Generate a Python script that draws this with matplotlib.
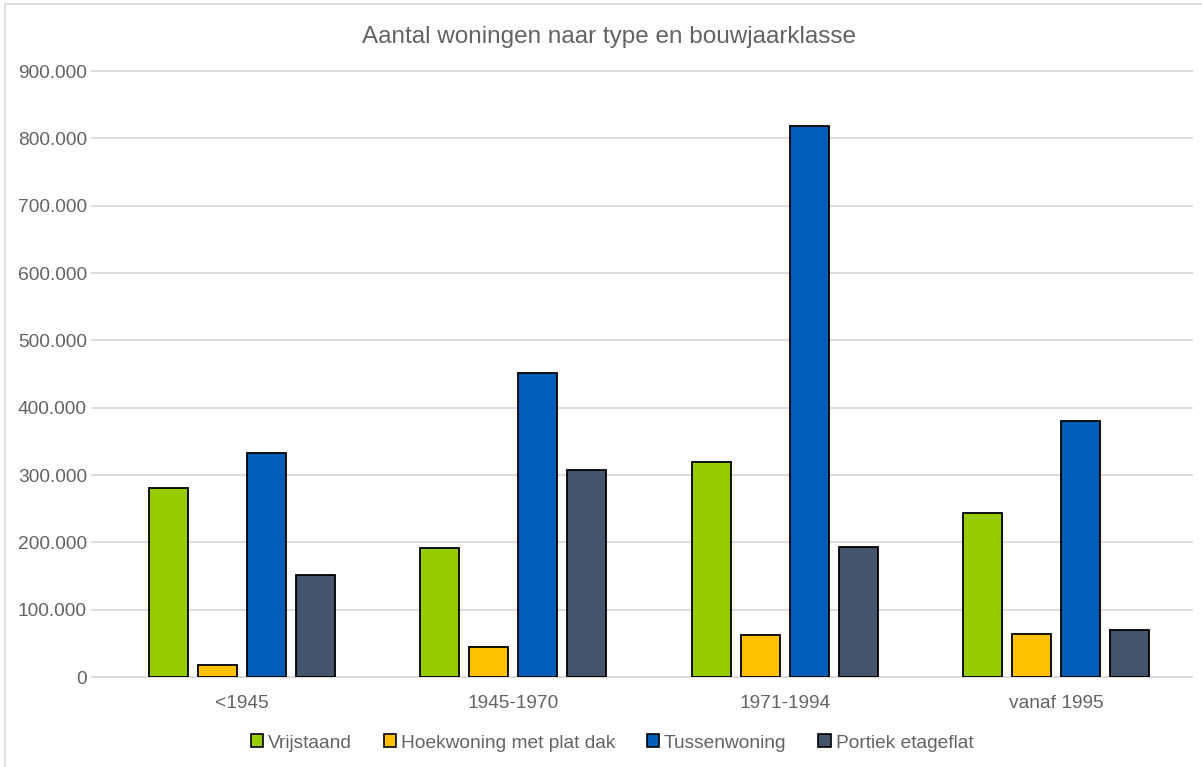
import matplotlib
matplotlib.use("Agg")
import matplotlib.pyplot as plt
import numpy as np
from matplotlib.patches import Rectangle, Patch
from matplotlib.ticker import FuncFormatter

categories = ["<1945", "1945-1970", "1971-1994", "vanaf 1995"]
series_names = ["Vrijstaand", "Hoekwoning met plat dak", "Tussenwoning", "Portiek etageflat"]
vrijstaand = [281000, 191000, 320000, 244000]
hoekwoning = [18000, 45000, 63000, 64000]
tussenwoning = [332000, 452000, 818000, 380000]
portiek = [151000, 307000, 193000, 70000]
colors = ["#99CC00", "#FFC000", "#005EB8", "#44546A"]
title = "Aantal woningen naar type en bouwjaarklasse"

W, H = 1202, 767
plt.rcParams['font.family'] = ['Liberation Sans', 'DejaVu Sans']
fig = plt.figure(figsize=(W / 100, H / 100), dpi=100)
fig.patch.set_facecolor("white")

# figure frame
fig.patches.append(Rectangle((5 / W, -0.01), 1.02, (H - 4) / H + 0.01, transform=fig.transFigure,
                             fill=False, edgecolor="#D9D9D9", linewidth=1.2))

left, right, top, bottom = 106, 1192, 71, 677
ax = fig.add_axes([left / W, (H - bottom) / H, (right - left) / W, (bottom - top) / H])

txt = "#636363"
series = [vrijstaand, hoekwoning, tussenwoning, portiek]
x = np.arange(len(categories))
step = 49 / 271.7
width = 39 / 271.7
for i, (vals, c) in enumerate(zip(series, colors)):
    ax.bar(x + (i - 1.5) * step, vals, width, color=c, edgecolor="black", linewidth=1.3,
           zorder=3, label=series_names[i])

ax.set_xlim(-0.5, len(categories) - 0.5)
ax.set_ylim(0, 900000)
ax.set_yticks(np.arange(0, 900001, 100000))
ax.yaxis.set_major_formatter(FuncFormatter(lambda v, p: "0" if v == 0 else f"{int(v):,}".replace(",", ".")))
ax.set_xticks(x)
ax.set_xticklabels(categories)
ax.tick_params(axis="both", length=0, labelsize=13.8, colors=txt)
ax.tick_params(axis="y", pad=13.7)
ax.tick_params(axis="x", pad=13)
for s in ax.spines.values():
    s.set_visible(False)
ax.grid(False)
gx0 = -14 / (right - left)
for yv in np.arange(0, 900001, 100000):
    ax.plot([gx0, 1], [yv, yv], transform=ax.get_yaxis_transform(), color="#D9D9D9",
            linewidth=1.3, zorder=1, clip_on=False)

fig.text(609 / W, 1 - 37 / H, title, ha="center", va="center", fontsize=17.5, color=txt)

handles = [Patch(facecolor=c, edgecolor="black", linewidth=1.2) for c in colors]
fig.legend(handles, series_names, loc="center", bbox_to_anchor=(612 / W, 1 - 743 / H), ncol=4,
           frameon=False, fontsize=13.8, labelcolor=txt, handlelength=0.65, handleheight=0.65,
           handletextpad=0.25, columnspacing=1.65)

fig.savefig("out.png", dpi=100, facecolor="white")
